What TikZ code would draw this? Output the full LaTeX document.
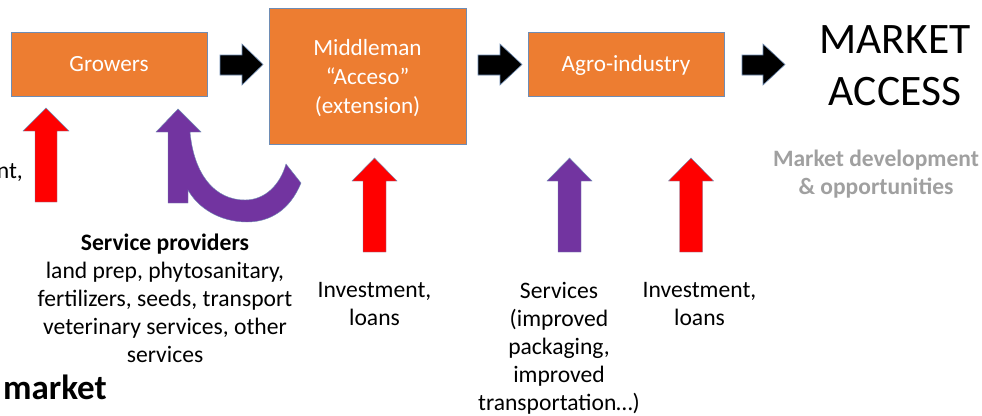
\documentclass[tikz,border=0pt]{standalone}
\usepackage{fontspec}
\setmainfont{Carlito}
\usetikzlibrary{calc}
\definecolor{boxorange}{RGB}{237,125,49}
\definecolor{edgeblue}{RGB}{110,140,180}
\definecolor{arrred}{RGB}{255,0,0}
\definecolor{arrpurple}{RGB}{114,52,160}
\definecolor{softgray}{RGB}{160,160,160}
\tikzset{
  x=1pt, y=-1pt,
  stagebox/.style={draw=edgeblue, line width=0.6pt, fill=boxorange, text=white,
    font=\fontsize{23.2}{29}\selectfont, align=center, inner sep=0pt},
  blacktip/.style={fill=black, draw=edgeblue, line width=0.6pt},
  redtip/.style={fill=arrred, draw=edgeblue, line width=0.4pt},
  purpletip/.style={fill=arrpurple, draw=edgeblue, line width=0.4pt},
  bodytext/.style={font=\fontsize{23.6}{28}\selectfont, align=center, inner sep=0pt, text=black},
}
\newcommand{\uparrowshape}[6]{% style, cx, tip y, bottom y, half head, half shaft
  \filldraw[#1] (#2,#3) -- ({#2+#5},{#3+23}) -- ({#2+#6},{#3+23}) -- ({#2+#6},#4)
    -- ({#2-#6},#4) -- ({#2-#6},{#3+23}) -- ({#2-#5},{#3+23}) -- cycle;}
\newcommand{\rightarrowshape}[4]{% name, x left, x head, x tip
  \filldraw[blacktip] (#2,55) -- (#3,55) -- (#3,44) -- (#4,64.5) -- (#3,85) -- (#3,75) -- (#2,75) -- cycle;
  \coordinate (#1) at (#4,64.5);}
\begin{document}
\begin{tikzpicture}
\clip (0,0) rectangle (982,415);
\fill[white] (0,0) rectangle (982,415);

% stage boxes
\node[stagebox, minimum width=196pt, minimum height=64pt, text height=15pt, text depth=0pt] (growers) at (109,64) {Growers};
\draw[edgeblue, line width=0.6pt, fill=boxorange] (269,8) rectangle (466,144);
\node[stagebox, draw=none, fill=none] (middle) at (367.5,78) {Middleman\\“Acceso”\\(extension)};
\node[stagebox, minimum width=196pt, minimum height=64pt, text height=15pt, text depth=0pt] (agro) at (626,64) {Agro-industry};
\node[font=\fontsize{43.5}{52}\selectfont, align=center, inner sep=0pt] (market) at (895,66) {MARKET\\ACCESS};

% black flow arrows between stages
\rightarrowshape{a1}{220}{242}{263}
\rightarrowshape{a2}{478}{500}{522}
\rightarrowshape{a3}{742}{763}{785}

% vertical support arrows
\uparrowshape{redtip}{46}{108}{202}{23}{11}
\uparrowshape{redtip}{374.5}{158}{252}{22.5}{11.5}
\uparrowshape{purpletip}{569.5}{158}{252}{22.5}{11.5}
\uparrowshape{redtip}{691}{158}{252}{22.5}{11.5}

% curved purple arrow (service providers -> growers)
\filldraw[purpletip] (178,109) -- (201,132) -- (190,132)
  .. controls (194,175) and (215,200) .. (245,200)
  .. controls (265,200) and (280,185) .. (286,164)
  -- (301,183)
  .. controls (290,210) and (270,222) .. (247,222)
  .. controls (220,222) and (198,208) .. (188,190)
  -- (188,203) -- (168,203) -- (168,132) -- (156,132) -- cycle;

% labels
\node[bodytext, anchor=base east] (cut) at (23,178) {nt,};
\node[bodytext] (sp) at (165,298) {\textbf{Service providers}\\land prep, phytosanitary,\\fertilizers, seeds, transport\\veterinary services, other\\services};
\node[font=\bfseries\fontsize{35}{40}\selectfont, anchor=west, inner sep=0pt] (mk) at (3,387) {market};
\node[bodytext] (inv1) at (374.5,304) {Investment,\\loans};
\node[bodytext] (serv) at (559,348) {Services\\(improved\\packaging,\\improved\\transportation…)};
\node[bodytext] (inv2) at (699.5,304) {Investment,\\loans};
\node[font=\bfseries\fontsize{23.5}{28}\selectfont, text=softgray, align=center, inner sep=0pt] (dev) at (876,174) {Market development\\\& opportunities};
\end{tikzpicture}
\end{document}
